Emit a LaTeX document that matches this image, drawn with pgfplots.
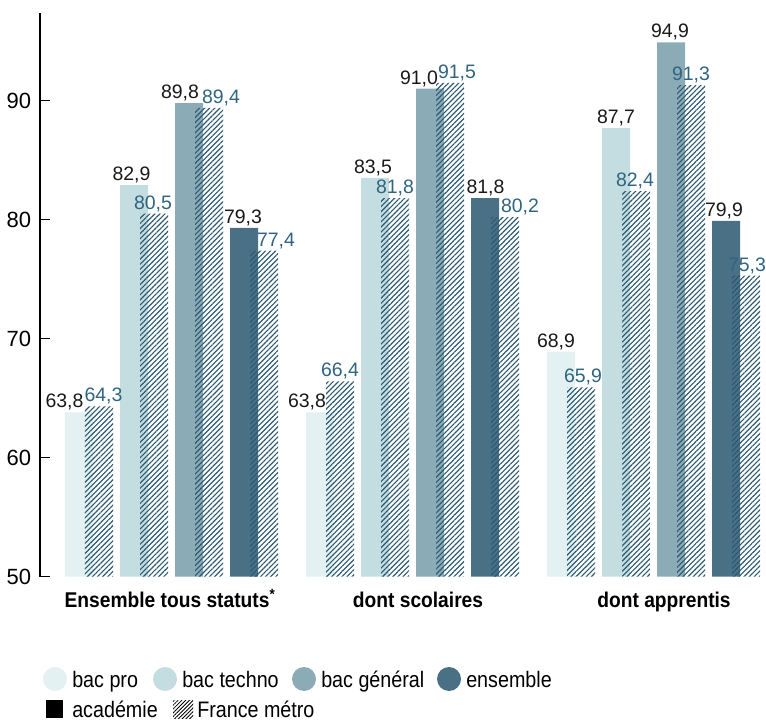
\documentclass[border=0pt]{standalone}
\usepackage{fontspec}
\setmainfont{Liberation Sans}
\usepackage{pgfplots}
\pgfplotsset{compat=1.18}
\usepackage{pgfplotstable}
\usetikzlibrary{patterns.meta}

\definecolor{cpro}{HTML}{E4F1F3}
\definecolor{ctech}{HTML}{C4DDE1}
\definecolor{cgen}{HTML}{8BACB6}
\definecolor{cens}{HTML}{4A7086}
\definecolor{hatch}{HTML}{2C5970}
\definecolor{flab}{HTML}{2F6580}

\newcommand\barfont{\fontsize{14.6}{17}\selectfont}
\newcommand\tickfont{\fontsize{16.5}{19}\selectfont}
\newcommand\catfont{\fontsize{16}{18}\selectfont\bfseries}
\newcommand\legfont{\fontsize{16.8}{19}\selectfont}

\pgfplotstableread{
xs ys dxs labs xh yh dxh labh
79 63.8 -14.5 63,8 99 64.3 4.5 64,3
320 63.8 -13 63,8 340 66.4 0 66,4
561 68.9 -5 68,9 581 65.9 2 65,9
}\catpro
\pgfplotstableread{
xs ys dxs labs xh yh dxh labh
134 82.9 -2.5 82,9 154 80.5 -1 80,5
375 83.5 -2 83,5 395 81.8 0 81,8
616 87.7 0 87,7 636 82.4 -1 82,4
}\cattech
\pgfplotstableread{
xs ys dxs labs xh yh dxh labh
189 89.8 -9 89,8 209 89.4 12 89,4
430 91.0 -11 91,0 450 91.5 7 91,5
671 94.9 -1 94,9 691 91.3 0 91,3
}\catgen
\pgfplotstableread{
xs ys dxs labs xh yh dxh labh
244 79.3 -1 79,3 264 77.4 12 77,4
485 81.8 0.5 81,8 505 80.2 15 80,2
726 79.9 -2 79,9 746 75.3 1 75,3
}\catens

\pgfplotsset{
  solidbar/.style={ybar, bar width=28, bar shift=0pt, draw=none, fill=#1,
    point meta=explicit symbolic, nodes near coords,
    visualization depends on={\thisrow{dxs}\as\dx},
    nodes near coords style={anchor=base, inner sep=0pt, yshift=3.4pt,
      xshift=\dx*0.75pt, font=\barfont, text=black!90}},
  hatchbar/.style={ybar, bar width=28, bar shift=0pt, draw=none,
    pattern={Lines[angle=45,distance=2.7pt,line width=0.85pt]}, pattern color=hatch,
    point meta=explicit symbolic, nodes near coords,
    visualization depends on={\thisrow{dxh}\as\dx},
    nodes near coords style={anchor=base, inner sep=0pt, yshift=3.4pt,
      xshift=\dx*0.75pt, font=\barfont, text=flab}},
}

\begin{document}
\begin{tikzpicture}
\begin{axis}[
  scale only axis, width=544.5pt, height=423pt,
  xmin=40, xmax=766, ymin=50, ymax=97.4,
  axis y line*=left, axis x line=none,
  ytick={50,60,70,80,90}, xtick=\empty,
  tick align=inside, major tick length=7.5pt,
  y axis line style={line width=0.9pt, black},
  ytick style={line width=0.9pt, black},
  yticklabel style={font=\tickfont, inner sep=0pt, xshift=-6.5pt},
  /pgf/number format/assume math mode=true,
  clip mode=individual,
]
\addplot[solidbar=cpro] table[x=xs, y=ys, meta=labs] {\catpro};
\addplot[solidbar=ctech] table[x=xs, y=ys, meta=labs] {\cattech};
\addplot[solidbar=cgen] table[x=xs, y=ys, meta=labs] {\catgen};
\addplot[solidbar=cens] table[x=xs, y=ys, meta=labs] {\catens};
\addplot[hatchbar] table[x=xh, y=yh, meta=labh] {\catpro};
\addplot[hatchbar] table[x=xh, y=yh, meta=labh] {\cattech};
\addplot[hatchbar] table[x=xh, y=yh, meta=labh] {\catgen};
\addplot[hatchbar] table[x=xh, y=yh, meta=labh] {\catens};
\coordinate (O) at (axis cs:40,50);
\end{axis}
\begin{scope}[shift={(O)}]
\begin{scope}[shift={(-30pt,432.45pt)}, x=0.75pt, y=-0.75pt]
  \node[anchor=base, inner sep=0pt, font=\catfont] at (170,608) {\scalebox{0.9}[1]{Ensemble tous statuts\textsuperscript{*}}};
  \node[anchor=base, inner sep=0pt, font=\catfont] at (418,608) {\scalebox{0.9}[1]{dont scolaires}};
  \node[anchor=base, inner sep=0pt, font=\catfont] at (664,608) {\scalebox{0.9}[1]{dont apprentis}};
  % legend
  \fill[cpro] (55,679) circle[radius=12];
  \fill[ctech] (165,679) circle[radius=12];
  \fill[cgen] (304,679) circle[radius=12];
  \fill[cens] (449,679) circle[radius=12];
  \node[anchor=base west, inner sep=0pt, font=\legfont] at (72,687) {\scalebox{0.88}[1]{bac pro}};
  \node[anchor=base west, inner sep=0pt, font=\legfont] at (182,687) {\scalebox{0.88}[1]{bac techno}};
  \node[anchor=base west, inner sep=0pt, font=\legfont] at (321,687) {\scalebox{0.88}[1]{bac général}};
  \node[anchor=base west, inner sep=0pt, font=\legfont] at (466,687) {\scalebox{0.88}[1]{ensemble}};
  \fill[black] (46,700) rectangle (63,718);
  \fill[pattern={Lines[angle=45,distance=2pt,line width=0.6pt]}, pattern color=black] (173,700) rectangle (193,718);
  \node[anchor=base west, inner sep=0pt, font=\legfont] at (72,717) {\scalebox{0.88}[1]{académie}};
  \node[anchor=base west, inner sep=0pt, font=\legfont] at (197,717) {\scalebox{0.88}[1]{France métro}};
  \pgfresetboundingbox
  \path (0,0) rectangle (766,720);
\end{scope}
\end{scope}
\end{tikzpicture}
\end{document}
